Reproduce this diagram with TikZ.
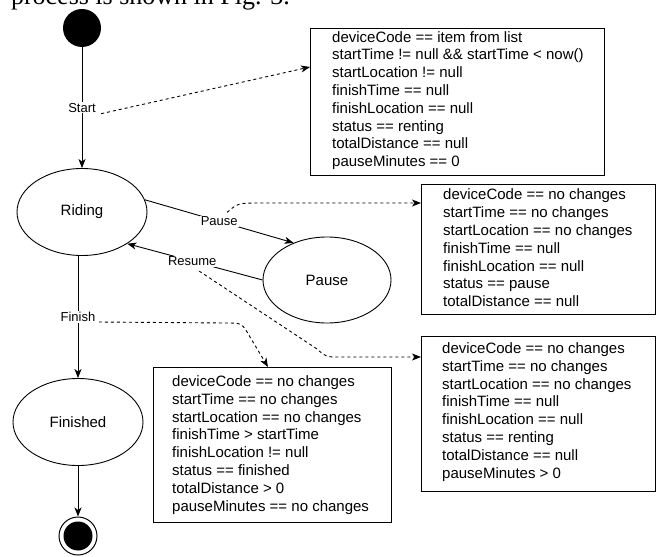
\documentclass[tikz,border=0pt]{standalone}
\usepackage{fontspec}
\setmainfont{Liberation Sans}
\newfontfamily\capfont{Liberation Serif}
\usetikzlibrary{arrows.meta,calc,shapes.geometric}
\begin{document}
\begin{tikzpicture}[x=1pt,y=-1pt,
  state/.style={ellipse, draw, line width=0.9pt, minimum width=130pt, minimum height=87pt, inner sep=0pt, font=\fontsize{15}{18}\selectfont},
  arr/.style={-{Stealth[length=9pt,width=7pt,inset=2.5pt]}, line width=0.9pt},
  darr/.style={arr, dash pattern=on 3pt off 3pt},
  lbl/.style={fill=white, inner sep=1pt, font=\fontsize{13}{15}\selectfont},
  cbox/.style={draw, line width=0.9pt, inner sep=0pt, anchor=north west},
  ctext/.style={anchor=west, inner sep=0pt, align=left, font=\fontsize{15}{17.8}\selectfont}]
\useasboundingbox (0,0) rectangle (660,556);
\clip (0,0) rectangle (660,556);

\node[anchor=base east, inner sep=0pt, font=\capfont\fontsize{26}{30}\selectfont] (cap) at (290,5) {process is shown in Fig. 3.};

\node[circle, fill=black, minimum size=38pt, inner sep=0pt] (init) at (82,28) {};
\node[state] (riding) at (82,212) {Riding};
\node[state, minimum width=128pt, minimum height=86pt] (pause) at (327,280) {Pause};
\node[state] (finished) at (78,422) {Finished};
\node[circle, draw, line width=1pt, minimum size=38pt, inner sep=0pt,
  path picture={\fill (path picture bounding box.center) circle (14.5pt);}] (fin) at (78,536) {};

\node[cbox, minimum width=294pt, minimum height=147pt] (b1) at (310,28) {};
\node[ctext] (t1) at (332,100.5) {deviceCode == item from list\\ startTime != null \&\& startTime < now()\\ startLocation != null\\ finishTime == null\\ finishLocation == null\\ status == renting\\ totalDistance == null\\ pauseMinutes == 0};

\node[cbox, minimum width=234pt, minimum height=130pt] (b2) at (421,184) {};
\node[ctext] (t2) at (443,248) {deviceCode == no changes\\ startTime == no changes\\ startLocation == no changes\\ finishTime == null\\ finishLocation == null\\ status == pause\\ totalDistance == null};

\node[cbox, minimum width=234pt, minimum height=155pt] (b3) at (421,336) {};
\node[ctext] (t3) at (442,412) {deviceCode == no changes\\ startTime == no changes\\ startLocation == no changes\\ finishTime == null\\ finishLocation == null\\ status == renting\\ totalDistance == null\\ pauseMinutes > 0};

\node[cbox, minimum width=238pt, minimum height=155pt] (b4) at (153,367) {};
\node[ctext] (t4) at (172,445) {deviceCode == no changes\\ startTime == no changes\\ startLocation == no changes\\ finishTime > startTime\\ finishLocation != null\\ status == finished\\ totalDistance > 0\\ pauseMinutes == no changes};

\draw[arr] (init) -- node[lbl, pos=0.5] (startlbl) {Start} (riding);
\draw[arr] (riding.11.7) -- node[lbl, pos=0.5] (pauselbl) {Pause} (pause.132.6);
\draw[arr] (pause.180) -- node[lbl, pos=0.52] (resumelbl) {Resume} (riding.-35.6);
\draw[arr] (riding.south -| finished.north) -- node[lbl, pos=0.5] (finishlbl) {Finish} (finished.north);
\draw[arr] (finished) -- (fin);

\draw[darr] ($(startlbl.south east)+(4,0)$) -- ($(b1.north west)+(0,39)$);
\draw[darr] ($(pauselbl.north east)+(-12,-3)$) .. controls (238,203) .. (262,203) -- ($(b2.north west)+(0,19)$);
\draw[darr] ($(resumelbl.south)+(7,4)$) -- (317,349) .. controls (326,357) .. (340,357) -- ($(b3.north west)+(0,21)$);
\draw[darr] ($(finishlbl.east)+(2,5)$) -- (226,323) .. controls (242,323) .. (250,337) -- ($(b4.north west)+(115,0)$);
\end{tikzpicture}
\end{document}
